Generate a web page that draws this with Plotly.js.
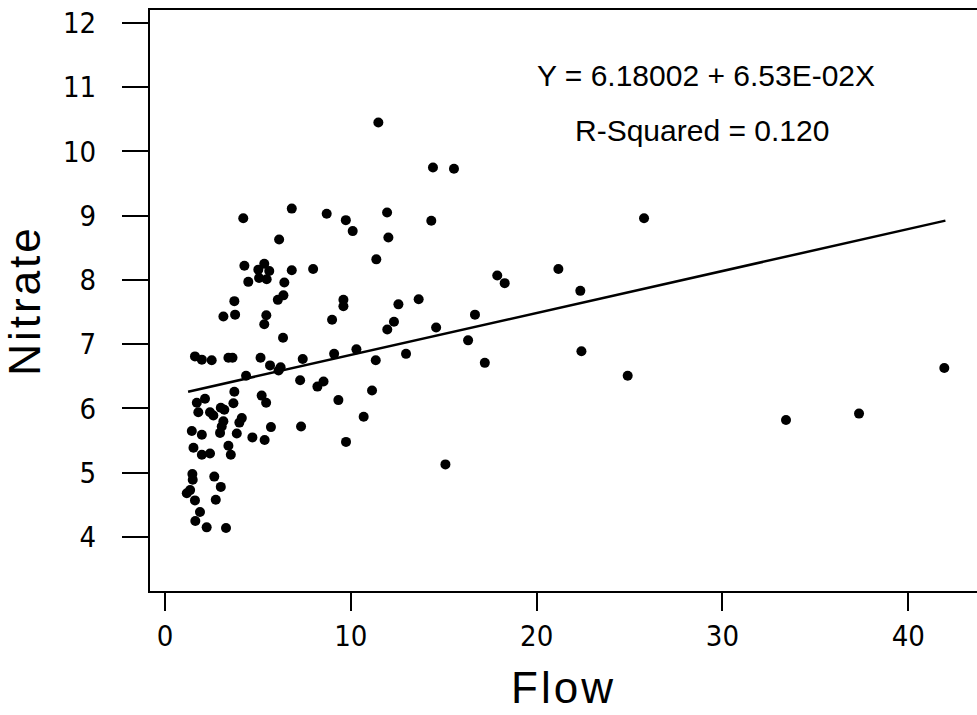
<!DOCTYPE html>
<html>
<head>
<meta charset="utf-8">
<script src="https://cdn.plot.ly/plotly-3.0.1.min.js"></script>
<style>
  html, body { margin: 0; padding: 0; background: #fff; }
  #chart { width: 977px; height: 715px; }
  .g-ytitle text { letter-spacing: 3px; }
  .g-xtitle text { letter-spacing: 3px; }
</style>
</head>
<body>
<div id="chart"></div>
<script>
const flowX = [
  11.48, 14.42, 15.55, 25.78, 4.21, 6.82, 8.70, 9.73, 10.10, 11.95,
  14.33, 12.02, 6.14, 11.37, 4.27, 5.34, 5.02, 5.06, 5.47, 5.61,
  6.82, 7.97, 21.17, 17.88, 18.28, 22.35, 4.48, 6.42, 6.37, 6.07,
  3.73, 3.77, 3.14, 5.45, 5.34, 9.60, 9.60, 12.56, 13.65, 8.99,
  12.32, 11.96, 16.68, 14.59, 6.35, 16.31, 10.30, 9.10, 7.41, 11.34,
  12.97, 17.21, 22.41, 24.90, 41.94, 37.35, 33.42, 15.09, 9.74, 10.69,
  11.14, 9.33, 8.53, 8.20, 7.27, 7.32, 1.61, 1.98, 2.51, 3.41,
  3.63, 5.14, 5.65, 6.22, 6.11, 4.36, 3.73, 5.20, 5.44, 1.71,
  2.15, 1.79, 3.68, 2.42, 2.60, 3.00, 3.19, 4.13, 4.00, 3.86,
  3.14, 3.05, 2.96, 1.44, 1.98, 5.70, 4.70, 5.36, 1.53, 1.98,
  2.42, 3.41, 3.54, 1.47, 1.49, 2.65, 3.00, 1.17, 1.35, 1.61,
  2.73, 1.88, 1.63, 2.24, 3.28
];
const nitrateY = [
  10.45, 9.75, 9.73, 8.96, 8.96, 9.11, 9.03, 8.93, 8.76, 9.05,
  8.92, 8.66, 8.63, 8.32, 8.22, 8.25, 8.16, 8.03, 8.01, 8.14,
  8.15, 8.17, 8.17, 8.07, 7.95, 7.83, 7.97, 7.96, 7.76, 7.69,
  7.67, 7.46, 7.43, 7.45, 7.31, 7.69, 7.59, 7.62, 7.70, 7.38,
  7.35, 7.23, 7.46, 7.26, 7.10, 7.06, 6.92, 6.85, 6.77, 6.75,
  6.85, 6.71, 6.89, 6.51, 6.63, 5.92, 5.82, 5.13, 5.48, 5.87,
  6.28, 6.13, 6.42, 6.34, 6.44, 5.72, 6.81, 6.76, 6.75, 6.79,
  6.79, 6.79, 6.67, 6.64, 6.59, 6.51, 6.26, 6.20, 6.09, 6.09,
  6.15, 5.94, 6.08, 5.94, 5.89, 6.01, 5.98, 5.85, 5.78, 5.61,
  5.80, 5.72, 5.62, 5.65, 5.59, 5.71, 5.55, 5.51, 5.39, 5.28,
  5.30, 5.42, 5.28, 4.98, 4.89, 4.94, 4.78, 4.68, 4.73, 4.57,
  4.58, 4.39, 4.25, 4.15, 4.14
];

// Fitted regression line (as printed on the chart)
const intercept = 6.18002;
const slope = 0.0653;
const fitX = [1.24, 42.0];
const fitY = fitX.map(v => intercept + slope * v);

const xTicks = [0, 10, 20, 30, 40];
const yTicks = [4, 5, 6, 7, 8, 9, 10, 11, 12];
const eqText = "Y = 6.18002 + 6.53E-02X";
const r2Text = "R-Squared = 0.120";

const tickFont = { family: "Liberation Sans Narrow, DejaVu Sans Condensed, sans-serif", size: 29, color: "#000" };
const titleFont = { family: "Liberation Sans, Arial, sans-serif", size: 44, color: "#000" };
const annFont = { family: "Liberation Sans, Arial, sans-serif", size: 30, color: "#000" };

const traces = [
  {
    x: flowX, y: nitrateY, type: "scatter", mode: "markers",
    marker: { color: "#000", size: 10 },
    hoverinfo: "x+y", showlegend: false
  },
  {
    x: fitX, y: fitY, type: "scatter", mode: "lines",
    line: { color: "#000", width: 2.5 },
    hoverinfo: "skip", showlegend: false
  }
];

const layout = {
  width: 977, height: 715,
  margin: { l: 150, r: 0, t: 10, b: 124, pad: 0 },
  paper_bgcolor: "#fff", plot_bgcolor: "#fff",
  showlegend: false,
  xaxis: {
    range: [-0.81, 43.7],
    tickvals: xTicks, ticktext: xTicks.map(String),
    ticks: "outside", ticklen: 18, tickwidth: 2, tickcolor: "#000",
    showline: true, linecolor: "#000", linewidth: 2, mirror: true,
    showgrid: false, zeroline: false,
    tickfont: tickFont, ticklabelstandoff: 0,
    title: { text: "Flow", font: titleFont, standoff: 20 }
  },
  yaxis: {
    range: [3.16, 12.2],
    tickvals: yTicks, ticktext: yTicks.map(String),
    ticks: "outside", ticklen: 26, tickwidth: 2, tickcolor: "#000",
    showline: true, linecolor: "#000", linewidth: 2,
    showgrid: false, zeroline: false,
    tickfont: tickFont, ticklabelstandoff: 20,
    title: { text: "Nitrate", font: titleFont, standoff: 22 }
  },
  annotations: [
    { x: 29.1, y: 11.18, xref: "x", yref: "y", text: eqText, showarrow: false, font: annFont, xanchor: "center", yanchor: "middle" },
    { x: 28.9, y: 10.32, xref: "x", yref: "y", text: r2Text, showarrow: false, font: annFont, xanchor: "center", yanchor: "middle" }
  ]
};

Plotly.newPlot("chart", traces, layout, { displayModeBar: false, staticPlot: true });
</script>
</body>
</html>
